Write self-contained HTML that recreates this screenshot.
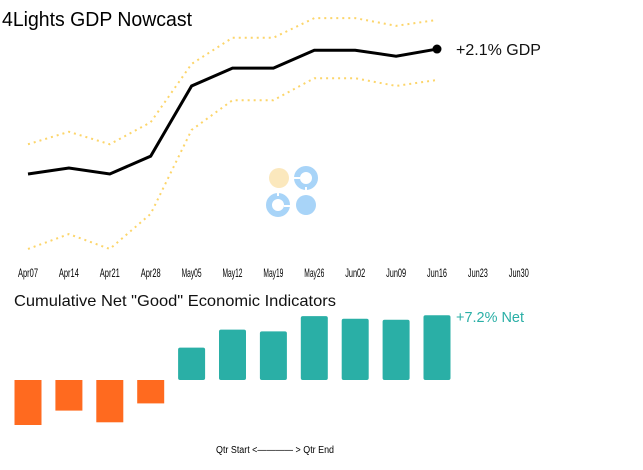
<!DOCTYPE html>
<html><head><meta charset="utf-8"><style>
body{margin:0;background:#fff;}
svg{display:block;font-family:"Liberation Sans",sans-serif;}
</style></head><body>
<svg id="c" width="643" height="470">
<text x="2" y="26" font-size="20" fill="#000" textLength="190" lengthAdjust="spacingAndGlyphs">4Lights GDP Nowcast</text>
<g>
<circle cx="279" cy="178" r="10" fill="#fbe8bd"/>
<circle cx="306" cy="178" r="9" fill="none" stroke="#a8d4f8" stroke-width="6"/>
<circle cx="278" cy="205" r="9" fill="none" stroke="#a8d4f8" stroke-width="6"/>
<circle cx="306" cy="205" r="10" fill="#a8d4f8"/>
<rect x="294" y="177" width="6" height="2" fill="#fff"/>
<rect x="305" y="187" width="2" height="6" fill="#fff"/>
<rect x="277" y="190" width="2" height="6" fill="#fff"/>
<rect x="284" y="205" width="6" height="2" fill="#fff"/>
</g>
<g id="topg"></g>
<g id="axis"></g>
<text x="14" y="306" font-size="16" fill="#111" textLength="322" lengthAdjust="spacingAndGlyphs">Cumulative Net "Good" Economic Indicators</text>
<g id="bars"></g>
<text x="216" y="453" font-size="10" fill="#000" textLength="118" lengthAdjust="spacingAndGlyphs">Qtr Start &lt;———— &gt; Qtr End</text>
</svg>
<script>
const weeks=["Apr07","Apr14","Apr21","Apr28","May05","May12","May19","May26","Jun02","Jun09","Jun16","Jun23","Jun30"];
const gdp=[0,0.1,0,0.3,1.48,1.78,1.78,2.08,2.08,1.98,2.1];
const gdpUpper=[0.5,0.71,0.5,0.87,1.85,2.29,2.29,2.62,2.62,2.49,2.59];
const gdpLower=[-1.26,-1.01,-1.26,-0.67,0.74,1.24,1.24,1.61,1.61,1.48,1.58];
const netGood=[-5,-3.4,-4.7,-2.6,3.6,5.6,5.4,7.1,6.8,6.7,7.2];
const gdpLabel="+2.1% GDP";
const netLabel="+7.2% Net";
const NS="http://www.w3.org/2000/svg";
const xs=i=>28+i*40.9;
const yg=v=>174-v*59.5;
const yb=v=>380-v*9;
function mk(t,a,p){const e=document.createElementNS(NS,t);for(const k in a)e.setAttribute(k,a[k]);p.appendChild(e);return e;}
const topG=document.getElementById('topg');
function line(arr,attrs,name){const e=mk('polyline',Object.assign({points:arr.map((v,i)=>xs(i)+','+yg(v)).join(' '),fill:'none'},attrs),topG);

}
line(gdpUpper,{stroke:'#fcd56a','stroke-width':2,'stroke-dasharray':'2,4'},'upper-band');
line(gdpLower,{stroke:'#fcd56a','stroke-width':2,'stroke-dasharray':'2,4'},'lower-band');
line(gdp,{stroke:'#000','stroke-width':3},'gdp-line');
const li=gdp.length-1;
const dot=mk('circle',{cx:xs(li),cy:yg(gdp[li]),r:4.5,fill:'#000'},topG);


const gl=mk('text',{x:xs(li)+19,y:yg(gdp[li])+6,'font-size':16,fill:'#111'},topG);gl.textContent=gdpLabel;


const ax=document.getElementById('axis');
weeks.forEach((w,i)=>{const t=mk('text',{x:xs(i),y:277,'font-size':12,'text-anchor':'middle',fill:'#000',textLength:w.length>5?24:20,lengthAdjust:'spacingAndGlyphs'},ax);t.textContent=w;

});
const bg=document.getElementById('bars');
netGood.forEach((v,i)=>{const y0=yb(0),y1=yb(v);const r=mk('rect',{x:xs(i)-13.5,y:Math.min(y0,y1),width:27,height:Math.abs(y1-y0),rx:v>0?2:0,fill:v>=0?'#2aafa6':'#ff6a1f'},bg);

});
const nl=mk('text',{x:xs(netGood.length-1)+19,y:yb(netGood[netGood.length-1])+7,'font-size':15,fill:'#2aafa6',textLength:68,lengthAdjust:'spacingAndGlyphs'},bg);nl.textContent=netLabel;


</script>
</body></html>
